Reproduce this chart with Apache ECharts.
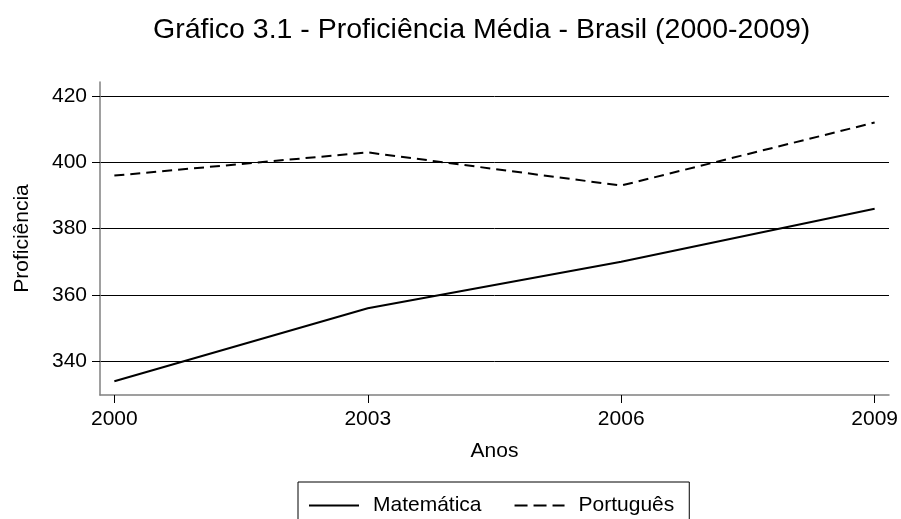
<!DOCTYPE html>
<html>
<head>
<meta charset="utf-8">
<script src="https://cdn.jsdelivr.net/npm/echarts@6/dist/echarts.min.js"></script>
<style>
  html, body { margin: 0; padding: 0; background: #fff; }
  #chart { width: 901px; height: 519px; }
</style>
</head>
<body>
<div id="chart"></div>
<script>
// dados (PISA Brasil)
var anos = [2000, 2003, 2006, 2009];
var matematica = [334, 356, 370, 386];
var portugues = [396, 403, 393, 412];
var yTicks = [340, 360, 380, 400, 420];

var fonte = '"Liberation Sans", Arial, sans-serif';
var chart = echarts.init(document.getElementById('chart'));

chart.setOption({
    backgroundColor: '#fff',
    animation: false,
    title: {
        text: 'Gráfico 3.1 - Proficiência Média - Brasil (2000-2009)',
        left: 148,
        top: 11,
        textStyle: { fontFamily: fonte, fontSize: 28.5, fontWeight: 'normal', color: '#000' }
    },
    grid: { left: 100, right: 11, top: 82, bottom: 124 },
    legend: {
        top: 482,
        left: 298,
        padding: [13, 15, 20, 10],
        itemWidth: 50,
        itemHeight: 14,
        itemGap: 32,
        borderColor: '#000',
        borderWidth: 1,
        borderRadius: 0,
        itemStyle: { opacity: 0 },
        textStyle: { fontFamily: fonte, fontSize: 21, color: '#000', padding: [0, 0, 0, 9] },
        data: [
            { name: 'Matemática' },
            { name: 'Português', lineStyle: { type: [13, 6] } }
        ]
    },
    xAxis: {
        type: 'value',
        min: 1999.83,
        max: 2009.17,
        name: 'Anos',
        nameLocation: 'middle',
        nameGap: 46,
        nameTextStyle: { fontFamily: fonte, fontSize: 21, color: '#000' },
        axisLine: { show: true, lineStyle: { color: '#808080', width: 1.5 } },
        axisTick: { show: true, length: 8, customValues: anos, lineStyle: { color: '#000' } },
        axisLabel: {
            customValues: anos,
            margin: 14,
            fontFamily: fonte, fontSize: 21, color: '#000',
            formatter: function (v) { return String(v); }
        },
        splitLine: { show: false }
    },
    yAxis: {
        type: 'value',
        min: 329.83,
        max: 424.23,
        name: 'Proficiência',
        nameLocation: 'middle',
        nameGap: 67,
        nameTextStyle: { fontFamily: fonte, fontSize: 21, color: '#000' },
        axisLine: { show: true, lineStyle: { color: '#808080', width: 1.5 } },
        axisTick: { show: true, length: 8, customValues: yTicks, lineStyle: { color: '#000' } },
        axisLabel: {
            customValues: yTicks,
            margin: 13,
            fontFamily: fonte, fontSize: 21, color: '#000',
            formatter: function (v) { return String(v); }
        },
        splitLine: { show: true, lineStyle: { color: '#000', width: 1 } }
    },
    series: [
        {
            name: 'Matemática',
            type: 'line',
            symbol: 'none',
            data: anos.map(function (a, i) { return [a, matematica[i]]; }),
            lineStyle: { color: '#000', width: 2 },
            itemStyle: { color: '#000' }
        },
        {
            name: 'Português',
            type: 'line',
            symbol: 'none',
            data: anos.map(function (a, i) { return [a, portugues[i]]; }),
            lineStyle: { color: '#000', width: 2, type: [10, 6] },
            itemStyle: { color: '#000' }
        }
    ]
});
</script>
</body>
</html>
